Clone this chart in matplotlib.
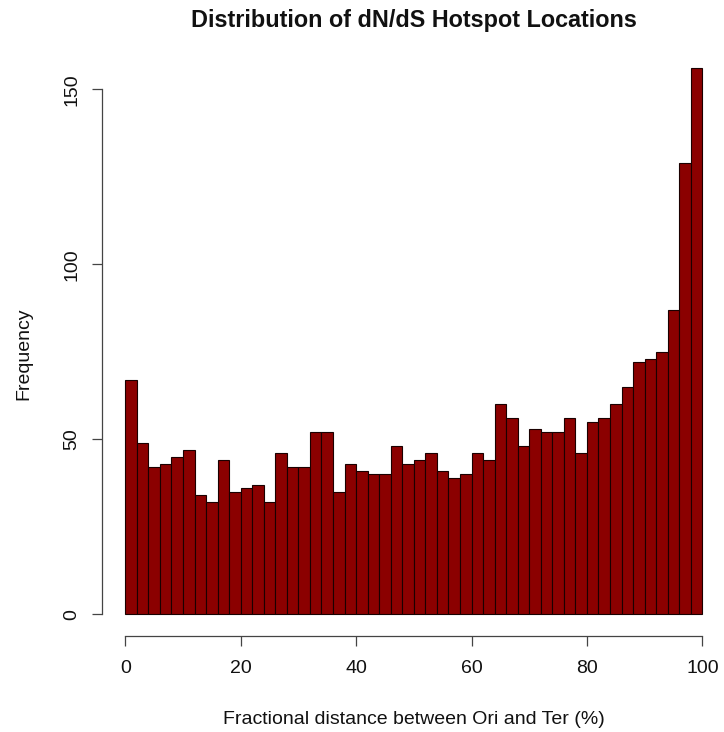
import matplotlib
matplotlib.use("Agg")
import matplotlib.pyplot as plt
import numpy as np

# Histogram of hotspot positions: 50 bins of width 2 over 0-100 %
bin_edges = list(range(0, 101, 2))
counts = [67, 49, 42, 43, 45, 47, 34, 32, 44, 35,
          36, 37, 32, 46, 42, 42, 52, 52, 35, 43,
          41, 40, 40, 48, 43, 44, 46, 41, 39, 40,
          46, 44, 60, 56, 48, 53, 52, 52, 56, 46,
          55, 56, 60, 65, 72, 73, 75, 87, 129, 156]
x_ticks = [0, 20, 40, 60, 80, 100]
y_ticks = [0, 50, 100, 150]

title = "Distribution of dN/dS Hotspot Locations"
x_label = "Fractional distance between Ori and Ter (%)"
y_label = "Frequency"

plt.rcParams['font.family'] = ['Liberation Sans', 'DejaVu Sans']

W, H = 724, 732
fig = plt.figure(figsize=(W / 100, H / 100), dpi=100)
left, right, top, bottom = 102.2, 725.4, 46.5, 636.1
ax = fig.add_axes([left / W, 1 - bottom / H, (right - left) / W, (bottom - top) / H])

edges = np.array(bin_edges, dtype=float)
ax.bar(edges[:-1], counts, width=np.diff(edges), align='edge',
       color='#8B0000', edgecolor='#1a0000', linewidth=0.8)

# R-style extents: 4% padding on both axes
xmin, xmax = edges[0], edges[-1]
ymax = max(counts)
ax.set_xlim(xmin - 0.04 * (xmax - xmin), xmax + 0.04 * (xmax - xmin))
ax.set_ylim(-0.04 * ymax, ymax * 1.04)

for s in ('top', 'right'):
    ax.spines[s].set_visible(False)
ax.spines['left'].set_bounds(y_ticks[0], y_ticks[-1])
ax.spines['bottom'].set_bounds(x_ticks[0], x_ticks[-1])
for s in ('left', 'bottom'):
    ax.spines[s].set_color('#444444')
    ax.spines[s].set_linewidth(0.9)

ax.set_xticks(x_ticks)
ax.set_yticks(y_ticks)
ax.tick_params(axis='both', direction='out', length=7.5, width=0.9,
               color='#444444', labelsize=14, labelcolor='#111111')
ax.tick_params(axis='x', pad=10)
ax.tick_params(axis='y', pad=8)
for lab in ax.get_yticklabels():
    lab.set_rotation(90)
    lab.set_va('center')

fig.text((left + right) / 2 / W, 1 - 20 / H, title, ha='center', va='center',
         fontsize=16.8, fontweight='bold', color='#111111')
fig.text((left + right) / 2 / W, 1 - 719 / H, x_label, ha='center', va='center',
         fontsize=14, color='#111111')
fig.text(23.5 / W, 1 - 354 / H, y_label, ha='center', va='center',
         rotation=90, fontsize=14, color='#111111')

fig.savefig("out.png", dpi=100, facecolor='white')
